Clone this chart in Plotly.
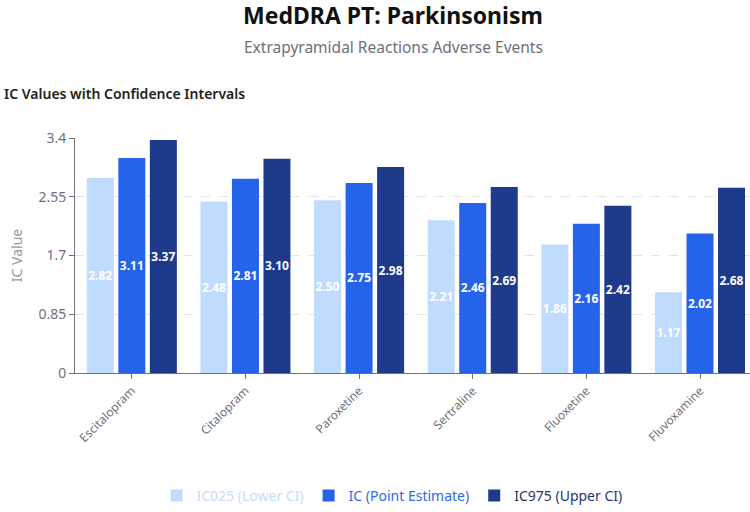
import plotly.graph_objects as go

drugs = ["Escitalopram", "Citalopram", "Paroxetine", "Sertraline", "Fluoxetine", "Fluvoxamine"]
ic025 = [2.82, 2.48, 2.50, 2.21, 1.86, 1.17]
ic = [3.11, 2.81, 2.75, 2.46, 2.16, 2.02]
ic975 = [3.37, 3.10, 2.98, 2.69, 2.42, 2.68]
series_names = ["IC025 (Lower CI)", "IC (Point Estimate)", "IC975 (Upper CI)"]
colors = ["#bfdbfe", "#2563eb", "#1e3a8a"]
legend_text_colors = ["#c6dcf7", "#2f6be6", "#25356f"]
y_ticks = [0, 0.85, 1.7, 2.55, 3.4]
y_tick_text = ["0", "0.85", "1.7", "2.55", "3.4"]

FONT = "Noto Sans"
W, H = 750, 512
ML, MR, MT, MB = 75, 0, 138, 138
PH = H - MT - MB
PW = W - ML - MR

def py(px):
    return 1 + (MT - px) / PH

def pxx(px):
    return (px - ML) / PW

fig = go.Figure()
for name, vals, col, tcol in zip(series_names, [ic025, ic, ic975], colors, legend_text_colors):
    fig.add_trace(go.Bar(
        x=drugs, y=vals,
        name=f"<span style='color:{tcol}'>{name}</span>",
        marker=dict(color=col, line=dict(width=0)),
        text=[f"{v:.2f}" for v in vals],
        textposition="inside",
        insidetextanchor="middle",
        constraintext="none",
        textangle=0,
        textfont=dict(color="white", size=12, family=FONT, weight="bold"),
    ))

fig.update_layout(
    width=W, height=H,
    margin=dict(l=ML, r=MR, t=MT, b=MB),
    paper_bgcolor="white", plot_bgcolor="white",
    font=dict(family=FONT, color="#666"),
    barmode="group",
    bargap=0.168,
    bargroupgap=0.143,
    showlegend=True,
    legend=dict(orientation="h", x=pxx(392), xanchor="center",
                y=py(497), yanchor="middle",
                font=dict(size=14, family=FONT), itemwidth=30,
                traceorder="normal"),
    xaxis=dict(
        range=[-0.5, 5.44],
        showline=True, linecolor="#6e7079", linewidth=1,
        ticks="outside", ticklen=5, tickcolor="#6e7079",
        tickangle=-45, tickfont=dict(size=12, color="#6e7079", family=FONT),
        showgrid=False,
    ),
    yaxis=dict(
        range=[0, 3.4],
        tickvals=y_ticks, ticktext=y_tick_text,
        showline=True, linecolor="#6e7079", linewidth=1,
        ticks="outside", ticklen=5, tickcolor="#6e7079",
        tickfont=dict(size=14, color="#6e7079", family=FONT),
        showgrid=True, gridcolor="#e3e3e3", griddash="dash", gridwidth=1,
        zeroline=False,
        title=dict(text="IC Value", font=dict(size=14, color="#999", family=FONT), standoff=12),
    ),
    annotations=[
        dict(text="<b>MedDRA PT: Parkinsonism</b>", x=pxx(393), y=py(14), xref="paper", yref="paper",
             xanchor="center", yanchor="middle",
             showarrow=False, font=dict(size=23, color="#111", family=FONT)),
        dict(text="Extrapyramidal Reactions Adverse Events", x=pxx(393), y=py(47), xref="paper", yref="paper",
             xanchor="center", yanchor="middle",
             showarrow=False, font=dict(size=15.5, color="#6e7079", family=FONT)),
        dict(text="IC Values with Confidence Intervals", x=pxx(2), y=py(93), xref="paper", yref="paper",
             xanchor="left", yanchor="middle",
             showarrow=False, font=dict(size=14, color="#222", family=FONT, weight=600)),
    ],
)

fig.write_html("out.html")
